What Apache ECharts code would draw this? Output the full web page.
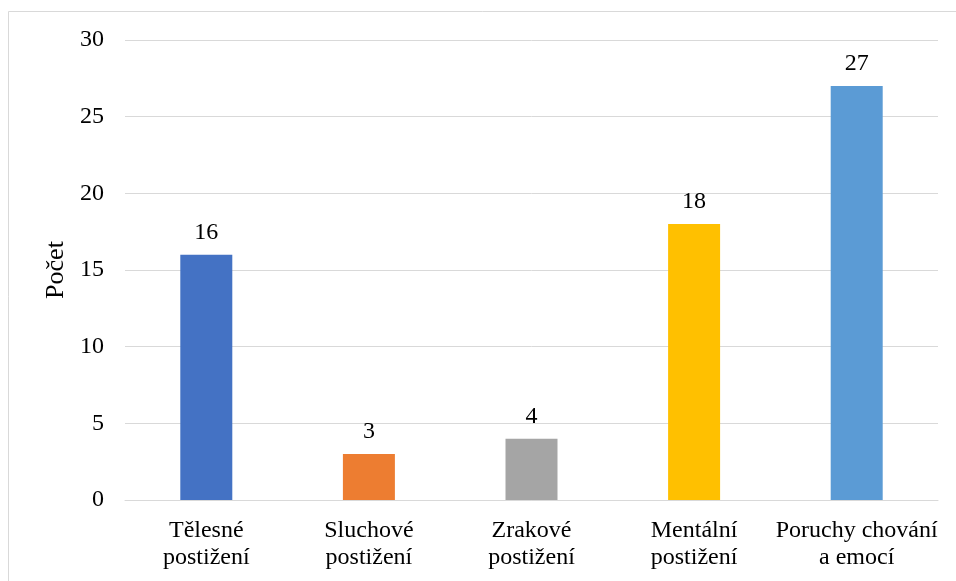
<!DOCTYPE html>
<html>
<head>
<meta charset="utf-8">
<script src="https://cdn.jsdelivr.net/npm/echarts@6/dist/echarts.min.js"></script>
<style>
  html, body { margin: 0; padding: 0; background: #fff; }
  #chart { width: 956px; height: 581px; }
</style>
</head>
<body>
<div id="chart"></div>
<script>
var categories = ["Tělesné\npostižení", "Sluchové\npostižení", "Zrakové\npostižení", "Mentální\npostižení", "Poruchy chování\na emocí"];
var counts = [16, 3, 4, 18, 27];
var barColors = ["#4472C4", "#ED7D31", "#A5A5A5", "#FFC000", "#5B9BD5"];

var font = "Liberation Serif";
var chart = echarts.init(document.getElementById("chart"));

var option = {
  backgroundColor: "#fff",
  animation: false,
  graphic: [{
    type: "rect",
    shape: { x: 8.5, y: 11.5, width: 960, height: 600 },
    style: { fill: null, stroke: "#d9d9d9", lineWidth: 1 },
    silent: true
  }],
  grid: { left: 125, right: 18, top: 40, bottom: 81 },
  xAxis: {
    type: "category",
    data: categories,
    axisLine: { lineStyle: { color: "#d9d9d9" } },
    axisTick: { show: false },
    axisLabel: { interval: 0, fontFamily: font, fontSize: 24, color: "#000", lineHeight: 27, margin: 17 }
  },
  yAxis: {
    type: "value",
    min: 0,
    max: 30,
    interval: 5,
    name: "Počet",
    nameLocation: "middle",
    nameGap: 52,
    nameTextStyle: { fontFamily: font, fontSize: 26, color: "#000" },
    axisLine: { show: false },
    axisTick: { show: false },
    splitLine: { lineStyle: { color: "#d9d9d9" } },
    axisLabel: { fontFamily: font, fontSize: 24, color: "#000", margin: 21 }
  },
  series: [{
    type: "bar",
    data: counts.map(function (v, i) { return { value: v, itemStyle: { color: barColors[i] } }; }),
    barWidth: 52,
    label: { show: true, position: "top", distance: 10, fontFamily: font, fontSize: 24, color: "#000" }
  }]
};

chart.setOption(option);
</script>
</body>
</html>
